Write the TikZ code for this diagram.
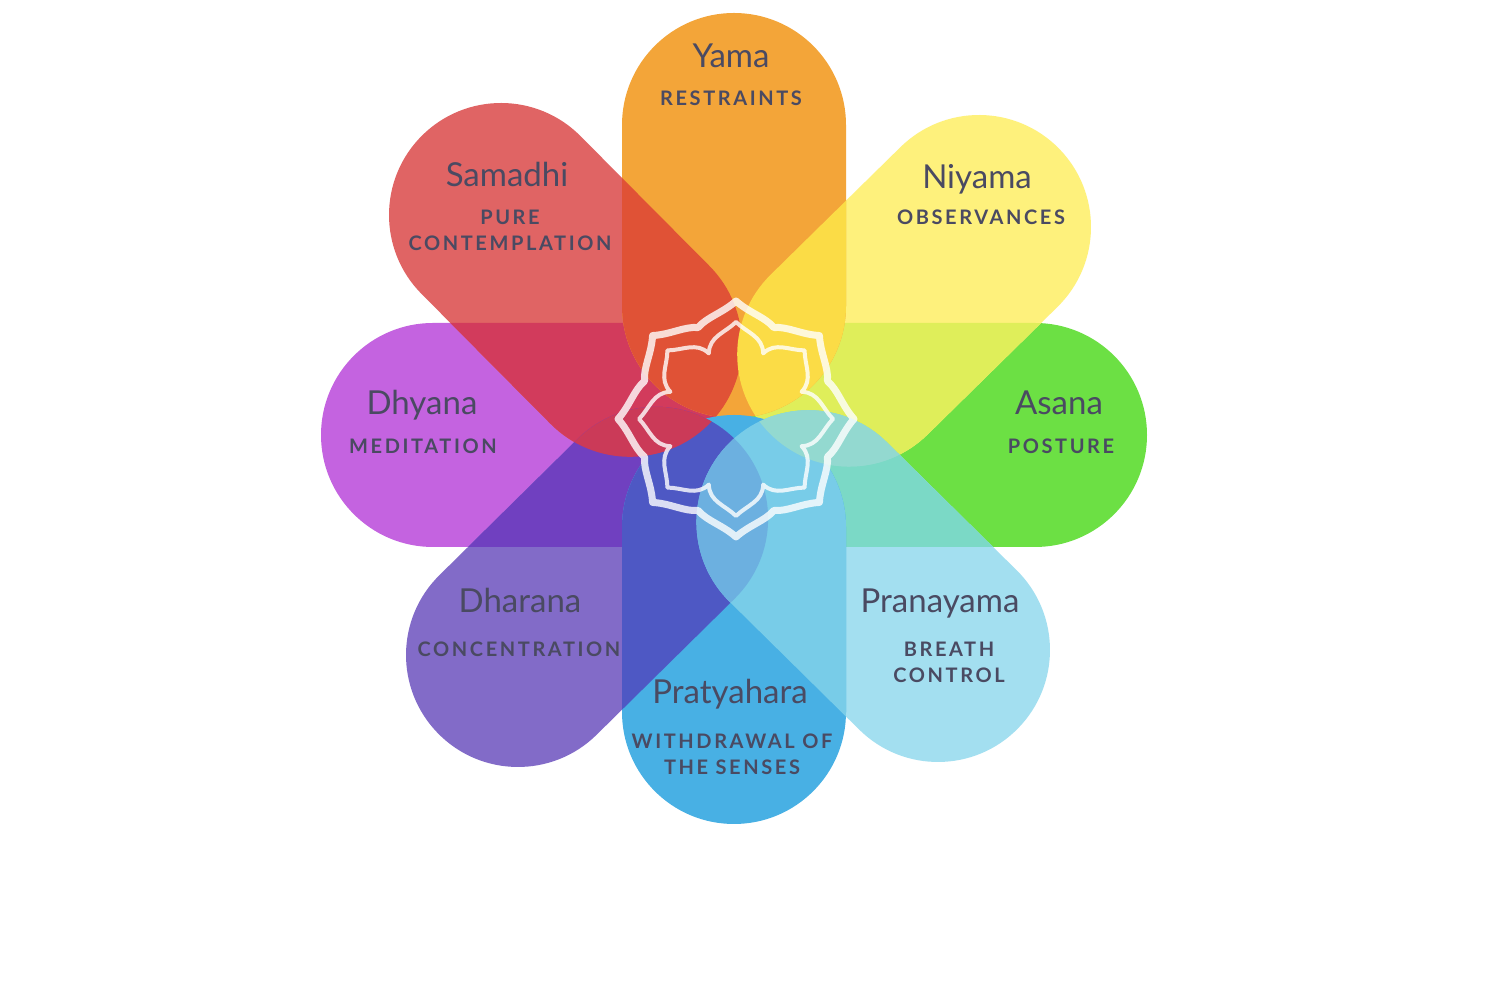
\documentclass[tikz,border=0pt]{standalone}
\usepackage{fontspec}
\setmainfont{Lato}
\newfontfamily\capsfont[LetterSpace=13]{Lato Bold}
\usetikzlibrary{calc}
% capsule: first end centre (x,y), direction, length
\newcommand\capsule[4]{(#1,#2) ++(#3+90:112) arc[start angle=#3+90,end angle=#3+270,radius=112] -- ++(#3:#4) arc[start angle=#3-90,end angle=#3+90,radius=112] -- cycle}
\newcommand\pYama{\capsule{734}{875}{-90}{181}}
\newcommand\pPrat{\capsule{734}{288}{90}{185}}
\newcommand\pDhya{\capsule{433}{565}{0}{290}}
\newcommand\pAsan{\capsule{1035}{565}{180}{290}}
\newcommand\pSama{\capsule{501}{785}{-45.2}{183}}
\newcommand\pNiya{\capsule{979}{773}{-135.5}{182}}
\newcommand\pPran{\capsule{938}{350}{135.4}{182}}
\newcommand\pDhar{\capsule{518}{345}{44.6}{194}}
\newcommand\lap[3]{\begin{scope}\clip #1;\fill[#3] #2;\end{scope}}
\definecolor{cYama}{HTML}{F3A539}
\definecolor{cNiya}{HTML}{FEF17C}
\definecolor{cAsan}{HTML}{6CE044}
\definecolor{cPran}{HTML}{A3DFF0}
\definecolor{cPrat}{HTML}{48B0E4}
\definecolor{cDhar}{HTML}{826BC8}
\definecolor{cDhya}{HTML}{C463E0}
\definecolor{cSama}{HTML}{E06464}
\definecolor{cSaYa}{HTML}{E05236}
\definecolor{cSaDh}{HTML}{D23B5C}
\definecolor{cSaDa}{HTML}{CB3A58}
\definecolor{cYaNi}{HTML}{FBDC46}
\definecolor{cNiAs}{HTML}{DFEE5A}
\definecolor{cAsPr}{HTML}{7BD9C6}
\definecolor{cNiPr}{HTML}{93D9D0}
\definecolor{cPrPa}{HTML}{78CCE8}
\definecolor{cDaPa}{HTML}{4E58C4}
\definecolor{cDaDh}{HTML}{7040C0}
\definecolor{cDaPr}{HTML}{6CB0E0}
\definecolor{cText}{HTML}{4A4A62}
\tikzset{
  title/.style={text=cText,font=\fontsize{33}{36}\selectfont,inner sep=0pt,anchor=base},
  sub/.style={text=cText,font=\capsfont\fontsize{20}{26.5}\selectfont,inner sep=0pt,align=center,anchor=base},
  lotus/.style={draw=white,line join=round,shift={(736,581)}}
}
\begin{document}
\begin{tikzpicture}[x=1pt,y=1pt]
\useasboundingbox (0,0) rectangle (1500,1000);
\fill[white] (0,0) rectangle (1500,1000);
% horizontal petals
\fill[cDhya] \pDhya;
\fill[cAsan] \pAsan;
% diagonal petals
\fill[cSama] \pSama;
\fill[cNiya] \pNiya;
\fill[cPran] \pPran;
\fill[cDhar] \pDhar;
\lap{\pSama}{\pDhya}{cSaDh}
\lap{\pNiya}{\pAsan}{cNiAs}
\lap{\pPran}{\pAsan}{cAsPr}
\lap{\pDhar}{\pDhya}{cDaDh}
\lap{\pNiya}{\pPran}{cNiPr}
% vertical petals
\fill[cYama] \pYama;
\fill[cPrat] \pPrat;
\lap{\pYama}{\pSama}{cSaYa}
\lap{\pYama}{\pNiya}{cYaNi}
\lap{\pPrat}{\pDhar}{cDaPa}
\lap{\pPrat}{\pPran}{cPrPa}
\lap{\pDhar}{\pPran}{cDaPr}
\lap{\pDhar}{\pSama}{cSaDa}
\begin{scope}\clip \pNiya;\clip \pPran;\fill[cNiPr] (600,400) rectangle (1000,700);\end{scope}
% lotus outline
\draw[lotus,line width=7pt,opacity=.8] (90:118)
  \foreach \a in {90,45,0,-45,-90,-135,-180,-225} {
    .. controls (\a-7:107) and (\a-16:106) .. (\a-22.5:99)
    .. controls (\a-29:106) and (\a-38:107) .. (\a-45:118)
  } -- cycle;
\draw[lotus,line width=4pt,opacity=.8] (90:97)
  \foreach \a in {90,45,0,-45,-90,-135,-180,-225} {
    .. controls (\a-7:87) and (\a-18:87) .. (\a-22.5:71)
    .. controls (\a-27:87) and (\a-38:87) .. (\a-45:97)
  } -- cycle;
% texts
\node[title] (yama) at (731,932) {Yama};
\node[sub] (yamas) at (731,894) {RESTRAINTS};
\node[title] (niya) at (977,811) {Niyama};
\node[sub] (niyas) at (981,775) {OBSERVANCES};
\node[title] (sama) at (507,813) {Samadhi};
\node[sub] (samas) at (510,749) {PURE\\CONTEMPLATION};
\node[title] (dhya) at (422,585) {Dhyana};
\node[sub] (dhyas) at (423,546) {MEDITATION};
\node[title] (asan) at (1059,585) {Asana};
\node[sub] (asans) at (1061,546) {POSTURE};
\node[title] (dhar) at (520,387) {Dharana};
\node[sub] (dhars) at (519,343) {CONCENTRATION};
\node[title] (pran) at (940,387) {Pranayama};
\node[sub] (prans) at (949,317) {BREATH\\CONTROL};
\node[title] (prat) at (730,296) {Pratyahara};
\node[sub] (prats) at (732,225) {WITHDRAWAL OF\\THE SENSES};
\end{tikzpicture}
\end{document}
